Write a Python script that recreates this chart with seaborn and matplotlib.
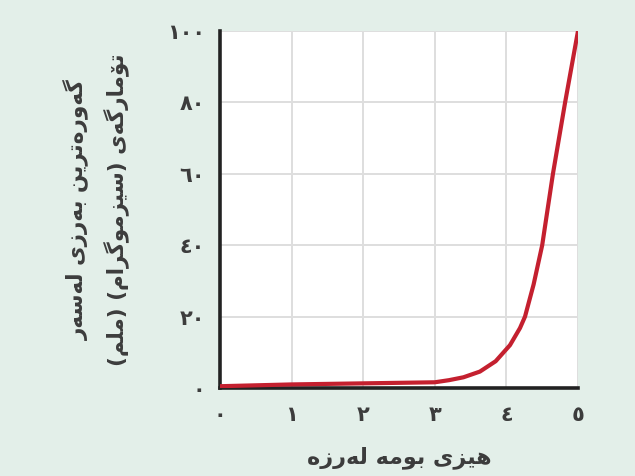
import matplotlib
matplotlib.use("Agg")
import matplotlib.pyplot as plt
import seaborn as sns
import pandas as pd

# ---- data ----
magnitude = [0, 1, 2, 3.0, 3.2, 3.4, 3.63, 3.85, 4.05, 4.19, 4.26, 4.38, 4.5, 4.65, 4.82, 5.0]
amplitude = [0.5, 1.0, 1.3, 1.6, 2.2, 3.0, 4.6, 7.5, 12.0, 16.8, 20, 29, 40, 60, 80, 100]
x_ticks = [0, 1, 2, 3, 4, 5]
x_tick_labels = ["٠", "١", "٢", "٣", "٤", "٥"]
y_ticks = [0, 20, 40, 60, 80, 100]
y_tick_labels = ["٠", "٢٠", "٤٠", "٦٠", "٨٠", "١٠٠"]
x_label = "هێزی بومە لەرزە"
y_label_lines = ["گەورەترین بەرزی لەسەر", "تۆمارگەی (سیزموگرام) (ملم)"]

# ---- minimal Arabic-script shaping (matplotlib has no complex text layout) ----
_DUAL = {
    'گ': ('\uFB92', '\uFB93', '\uFB94', '\uFB95'),
    'ت': ('\uFE95', '\uFE96', '\uFE97', '\uFE98'),
    'ی': ('\uFBFC', '\uFBFD', '\uFBFE', '\uFBFF'),
    'ێ': ('\u06CE', '\uFBFD', '\uFBFE', '\uFBFF'),
    'ن': ('\uFEE5', '\uFEE6', '\uFEE7', '\uFEE8'),
    'ب': ('\uFE8F', '\uFE90', '\uFE91', '\uFE92'),
    'ل': ('\uFEDD', '\uFEDE', '\uFEDF', '\uFEE0'),
    'س': ('\uFEB1', '\uFEB2', '\uFEB3', '\uFEB4'),
    'م': ('\uFEE1', '\uFEE2', '\uFEE3', '\uFEE4'),
    'ه': ('\uFEE9', '\uFEEA', '\uFEEB', '\uFEEC'),
}
_RIGHT = {
    'ە': ('\u06D5', '\uFEEA'),
    'و': ('\uFEED', '\uFEEE'),
    'ر': ('\uFEAD', '\uFEAE'),
    'ز': ('\uFEAF', '\uFEB0'),
    'ۆ': ('\u06C6', '\uFBDA'),
    'ا': ('\uFE8D', '\uFE8E'),
}


def shape(s):
    out = []
    n = len(s)
    for i, ch in enumerate(s):
        if ch in _DUAL or ch in _RIGHT:
            prev = s[i - 1] if i > 0 else ''
            nxt = s[i + 1] if i + 1 < n else ''
            jp = prev in _DUAL
            if ch in _DUAL:
                jn = nxt in _DUAL or nxt in _RIGHT
                idx = 3 if (jp and jn) else 1 if jp else 2 if jn else 0
                out.append(_DUAL[ch][idx])
            else:
                out.append(_RIGHT[ch][1 if jp else 0])
        else:
            out.append({'(': ')', ')': '('}.get(ch, ch))
    return ''.join(reversed(out))


# ---- style ----
sns.set_theme(style="whitegrid")
plt.rcParams['font.family'] = ['DejaVu Sans']
bg = '#e3efe9'
text_col = '#3c3c3c'

fig = plt.figure(figsize=(6.35, 4.76), dpi=100, facecolor=bg)
ax = fig.add_axes([220 / 635, 1 - 388 / 476, (578 - 220) / 635, (388 - 31) / 476])
ax.set_facecolor('white')

df = pd.DataFrame({'magnitude': magnitude, 'amplitude': amplitude})
sns.lineplot(data=df, x='magnitude', y='amplitude', ax=ax, color='#c4202f',
             linewidth=3.0, sort=False, estimator=None, solid_capstyle='round',
             solid_joinstyle='round', zorder=5)

ax.set_xlim(0, 5)
ax.set_ylim(0, 100)
ax.set_xticks(x_ticks)
ax.set_xticklabels(x_tick_labels, fontweight='bold')
ax.set_yticks(y_ticks)
ax.set_yticklabels(y_tick_labels, fontweight='bold')
ax.tick_params(axis='x', length=0, pad=12, labelsize=15, labelcolor=text_col)
ax.tick_params(axis='y', length=0, pad=11, labelsize=15, labelcolor=text_col)

ax.grid(True, color='#dedede', linewidth=1.4)
for side in ['top', 'right']:
    ax.spines[side].set_visible(False)
for side in ['left', 'bottom']:
    ax.spines[side].set_color('#222222')
    ax.spines[side].set_linewidth(2.6)
    ax.spines[side].set_zorder(4)

ax.set_xlabel(shape(x_label), fontsize=16, fontweight='bold', color=text_col, va='center')
ax.xaxis.set_label_coords(0.5, -0.196)
ax.set_ylabel('\n'.join(shape(l) for l in y_label_lines), fontsize=15.5,
              fontweight='bold', color=text_col, va='center', ha='center',
              linespacing=1.75, multialignment='center')
ax.yaxis.set_label_coords(-0.346, 0.5)

fig.savefig('out.png', dpi=100, facecolor=bg)
